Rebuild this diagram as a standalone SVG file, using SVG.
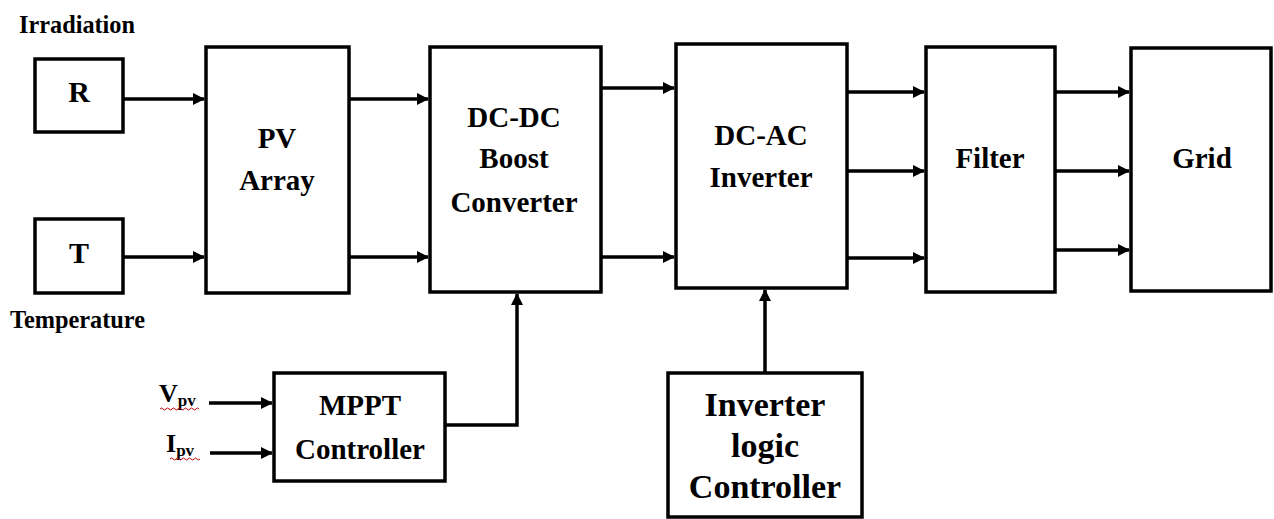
<svg xmlns="http://www.w3.org/2000/svg" width="1274" height="519" viewBox="0 0 1274 519">
<defs>
<style>
.box{fill:#fff;stroke:#000;stroke-width:3.5}
.t{font-family:'Liberation Serif',serif;font-weight:700;fill:#000;text-anchor:middle}
.lbl{font-size:29px}
.big{font-size:34px}
.side{font-family:'Liberation Serif',serif;font-weight:700;fill:#000;font-size:26px}
.c{fill:none;stroke:#000;stroke-width:3.5}
.sq{fill:none;stroke:#c00000;stroke-width:1}
</style>
<marker id="ah" markerUnits="userSpaceOnUse" markerWidth="12" markerHeight="12" refX="11" refY="6" orient="auto">
<path d="M0,0 L12,6 L0,12 z" fill="#000"/>
</marker>
</defs>
<rect width="1274" height="519" fill="#fff"/>
<text class="side" x="19" y="33" textLength="116" lengthAdjust="spacingAndGlyphs">Irradiation</text>
<text class="side" x="10" y="328" textLength="135" lengthAdjust="spacingAndGlyphs">Temperature</text>
<g id="nodeR"><rect class="box" x="35" y="59" width="88" height="73"/><text class="t" x="79" y="102" font-size="30">R</text></g>
<g id="nodeT"><rect class="box" x="35" y="219" width="88" height="74"/><text class="t" x="79" y="263" font-size="30">T</text></g>
<g id="pv"><rect class="box" x="206" y="47" width="143" height="246"/><text class="t lbl" x="277" y="148">PV</text><text class="t lbl" x="277" y="190">Array</text></g>
<g id="dcdc"><rect class="box" x="430" y="47" width="171" height="245"/><text class="t lbl" x="514" y="127">DC-DC</text><text class="t lbl" x="514" y="168">Boost</text><text class="t lbl" x="514" y="212">Converter</text></g>
<g id="dcac"><rect class="box" x="676" y="44" width="171" height="244"/><text class="t lbl" x="761" y="145">DC-AC</text><text class="t lbl" x="761" y="187">Inverter</text></g>
<g id="filter"><rect class="box" x="926" y="47" width="129" height="245"/><text class="t lbl" x="990" y="168">Filter</text></g>
<g id="grid"><rect class="box" x="1131" y="48" width="140" height="243"/><text class="t lbl" x="1202" y="168">Grid</text></g>
<g id="mppt"><rect class="box" x="274" y="373" width="171" height="108"/><text class="t lbl" x="360" y="415">MPPT</text><text class="t lbl" x="360" y="459">Controller</text></g>
<g id="ilc"><rect class="box" x="668" y="373" width="194" height="144"/><text class="t big" x="765" y="416">Inverter</text><text class="t big" x="765" y="457">logic</text><text class="t big" x="765" y="498">Controller</text></g>
<g id="inputs">
<text class="side" x="159" y="402" font-size="28">V<tspan font-size="17" dy="4">pv</tspan></text>
<text class="side" x="166" y="452" font-size="28">I<tspan font-size="17" dy="4">pv</tspan></text>
<path class="sq" d="M160,409 q1.5,-2 3,0 t3,0 t3,0 t3,0 t3,0 t3,0 t3,0 t3,0 t3,0 t3,0 t3,0 t3,0 t3,0"/>
<path class="sq" d="M170,459 q1.5,-2 3,0 t3,0 t3,0 t3,0 t3,0 t3,0 t3,0 t3,0 t3,0 t3,0"/>
</g>
<g id="connectors">
<line class="c" x1="123" y1="99" x2="204" y2="99" marker-end="url(#ah)"/>
<line class="c" x1="123" y1="257" x2="204" y2="257" marker-end="url(#ah)"/>
<line class="c" x1="349" y1="99" x2="428" y2="99" marker-end="url(#ah)"/>
<line class="c" x1="349" y1="257" x2="428" y2="257" marker-end="url(#ah)"/>
<line class="c" x1="601" y1="88" x2="674" y2="88" marker-end="url(#ah)"/>
<line class="c" x1="601" y1="257" x2="674" y2="257" marker-end="url(#ah)"/>
<line class="c" x1="847" y1="92" x2="924" y2="92" marker-end="url(#ah)"/>
<line class="c" x1="847" y1="171" x2="924" y2="171" marker-end="url(#ah)"/>
<line class="c" x1="847" y1="258" x2="924" y2="258" marker-end="url(#ah)"/>
<line class="c" x1="1055" y1="92" x2="1129" y2="92" marker-end="url(#ah)"/>
<line class="c" x1="1055" y1="171" x2="1129" y2="171" marker-end="url(#ah)"/>
<line class="c" x1="1055" y1="250" x2="1129" y2="250" marker-end="url(#ah)"/>
<line class="c" x1="209" y1="403" x2="272" y2="403" marker-end="url(#ah)"/>
<line class="c" x1="210" y1="453" x2="272" y2="453" marker-end="url(#ah)"/>
<polyline class="c" points="445,425 517,425 517,294" marker-end="url(#ah)"/>
<line class="c" x1="765" y1="373" x2="765" y2="290" marker-end="url(#ah)"/>
</g>
</svg>
